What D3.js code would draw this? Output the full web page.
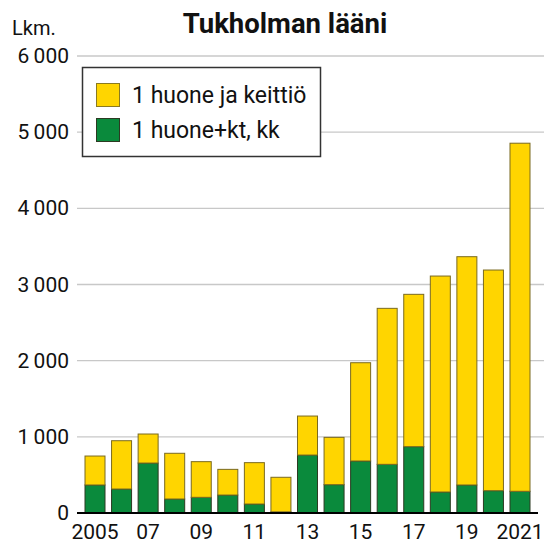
<!DOCTYPE html>
<html><head><meta charset="utf-8">
<script src="https://cdn.jsdelivr.net/npm/d3@7"></script>
<style>body{margin:0;background:#fff}svg{display:block}text{font-family:Roboto,"Noto Sans",sans-serif}</style>
</head><body><svg id="c" width="544" height="544"></svg>
<script>
const years = ["2005","2006","2007","2008","2009","2010","2011","2012","2013","2014","2015","2016","2017","2018","2019","2020","2021"];
const tickLabels = ["2005","07","09","11","13","15","17","19","2021"];
const greenVals = [368,315,656,184,206,236,118,15,761,372,683,639,871,276,368,293,285];
const totalVals = [748,949,1037,784,674,573,661,469,1273,993,1973,2687,2871,3111,3365,3190,4855];
const yellowVals = totalVals.map((t,i)=>t-greenVals[i]);
const seriesNames = ["1 huone ja keittiö","1 huone+kt, kk"];
const colors = ["#FFD500","#0A8A3C"];
const yTicks = [0,1000,2000,3000,4000,5000,6000];

const svg = d3.select("#c");
const x = d3.scaleBand().domain(years).range([85,530]).paddingInner(0.247).paddingOuter(0);
const y = d3.scaleLinear().domain([0,6000]).range([513,56]);

// grid
svg.append("g").selectAll("line").data(yTicks.filter(d=>d>0)).join("line")
  .attr("x1",77).attr("x2",544).attr("y1",d=>y(d)).attr("y2",d=>y(d))
  .attr("stroke","#c8c8c8").attr("stroke-width",1.3);
svg.append("g").selectAll("text").data(yTicks).join("text")
  .attr("x",69).attr("y",d=>y(d)+7).attr("text-anchor","end")
  .attr("font-size",21).attr("fill","#111").text(d=>d===0?"0":(d/1000)+"\u2009000");

// bars
const gB = svg.append("g");
years.forEach((yr,i)=>{
  gB.append("rect").attr("x",x(yr)).attr("width",x.bandwidth())
    .attr("y",y(greenVals[i])).attr("height",y(0)-y(greenVals[i]))
    .attr("fill",colors[1]).attr("stroke","#2c3a22").attr("stroke-width",1);
  gB.append("rect").attr("x",x(yr)).attr("width",x.bandwidth())
    .attr("y",y(totalVals[i])).attr("height",y(greenVals[i])-y(totalVals[i]))
    .attr("fill",colors[0]).attr("stroke","#7a6a20").attr("stroke-width",1);
});

// baseline
svg.append("line").attr("x1",77).attr("x2",538).attr("y1",y(0)).attr("y2",y(0))
  .attr("stroke","#000").attr("stroke-width",2);

// x labels
const labYears = ["2005","2007","2009","2011","2013","2015","2017","2019","2021"];
svg.append("g").selectAll("text").data(labYears).join("text")
  .attr("x",(d)=>x(d)+x.bandwidth()/2).attr("y",539).attr("text-anchor","middle")
  .attr("font-size",21).attr("fill","#111").text((d,i)=>tickLabels[i]);

// title
svg.append("text").attr("x",285).attr("y",33).attr("text-anchor","middle")
  .attr("font-size",27.5).attr("font-weight","bold").attr("fill","#111").text("Tukholman lääni");
svg.append("text").attr("x",12).attr("y",35).attr("font-size",20).attr("fill","#111").text("Lkm.");

// legend
const lg = svg.append("g");
lg.append("rect").attr("x",82.5).attr("y",67.5).attr("width",238).attr("height",89)
  .attr("fill","#fff").attr("stroke","#333").attr("stroke-width",1.5);
seriesNames.forEach((n,i)=>{
  lg.append("rect").attr("x",96.5).attr("y",83.5+i*35).attr("width",23).attr("height",23)
    .attr("fill",colors[i]).attr("stroke",i===0?"#8a7a20":"#2c3a22").attr("stroke-width",1);
  lg.append("text").attr("x",132).attr("y",103+i*35).attr("font-size",23).attr("fill","#111").text(n);
});
</script></body></html>
